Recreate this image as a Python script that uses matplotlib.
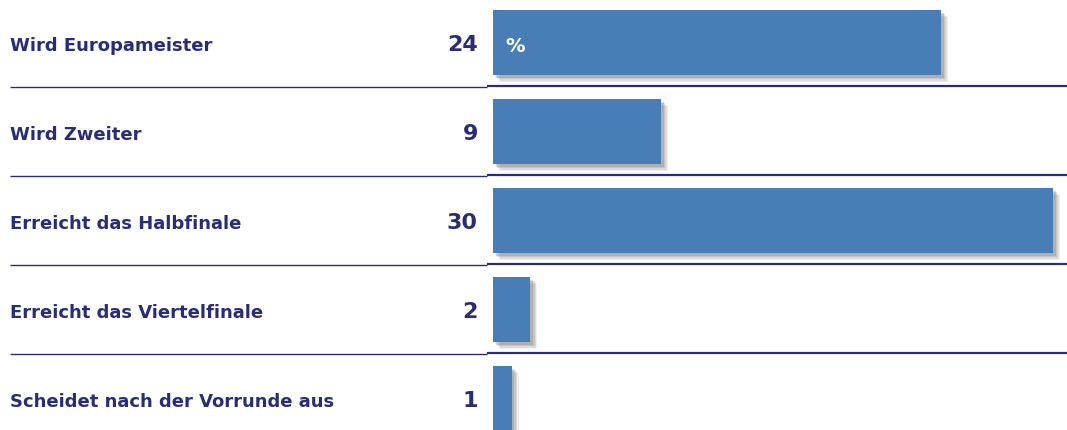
import matplotlib

matplotlib.use("Agg")
import matplotlib.patheffects as pe
import matplotlib.pyplot as plt

# Colours
_NAVY = "#2B2D74"
_BAR = "#487EB5"
_WHITE = "#FFFFFF"

categories = [
    "Wird Europameister",
    "Wird Zweiter",
    "Erreicht das Halbfinale",
    "Erreicht das Viertelfinale",
    "Scheidet nach der Vorrunde aus",
]
values = [24, 9, 30, 2, 1]
unit_label = "%"

W, H = 1067, 430
PX_PER_UNIT = 18.67  # bar scale in pixels per percent
BAR_X0 = 493  # pixel where bars start
ROW_PX = 89
FIRST_ROW_PX = 42.5

fig = plt.figure(figsize=(W / 100, H / 100), dpi=100)
fig.patch.set_facecolor(_WHITE)
ax = fig.add_axes([0, 0, 1, 1])
ax.set_facecolor(_WHITE)
ax.set_xlim(-BAR_X0 / PX_PER_UNIT, (W - BAR_X0) / PX_PER_UNIT)
ax.set_ylim((H - FIRST_ROW_PX) / ROW_PX, -FIRST_ROW_PX / ROW_PX)
ax.axis("off")

# soft drop shadow built from a few stacked offsets
shadow = [
    pe.SimplePatchShadow(offset=(o, -o), shadow_rgbFace="#8A8A8A", alpha=a)
    for o, a in [(5, 0.12), (4, 0.2), (3, 0.28), (2, 0.35)]
]

y = list(range(len(categories)))
ax.barh(
    y,
    values,
    height=0.73,
    color=_BAR,
    linewidth=0,
    path_effects=shadow + [pe.Normal()],
    zorder=3,
)

x_label = (10 - BAR_X0) / PX_PER_UNIT
x_value = (478 - BAR_X0) / PX_PER_UNIT
x_split = (487 - BAR_X0) / PX_PER_UNIT
x_end = (W - BAR_X0) / PX_PER_UNIT
for i, (cat, val) in enumerate(zip(categories, values)):
    ax.text(x_label, i + 0.04, cat, ha="left", va="center",
            fontsize=13, fontweight="bold", color=_NAVY, family="DejaVu Sans")
    ax.text(x_value, i + 0.03, f"{val}", ha="right", va="center",
            fontsize=16, fontweight="bold", color=_NAVY, family="DejaVu Sans")

ax.text((505 - BAR_X0) / PX_PER_UNIT, 0.04, unit_label, ha="left", va="center",
        fontsize=14, fontweight="bold", color=_WHITE, family="DejaVu Sans", zorder=4)

# Row separators: thin on the label side, thicker under the bars
for i in range(len(categories) - 1):
    ax.plot([x_label, x_split], [i + 0.5, i + 0.5], color=_NAVY, lw=1.0,
            solid_capstyle="butt", zorder=2)
    ax.plot([x_split, x_end], [i + 0.485, i + 0.485], color=_NAVY, lw=1.6,
            solid_capstyle="butt", zorder=2)

fig.savefig("out.png", dpi=100, facecolor=_WHITE)
